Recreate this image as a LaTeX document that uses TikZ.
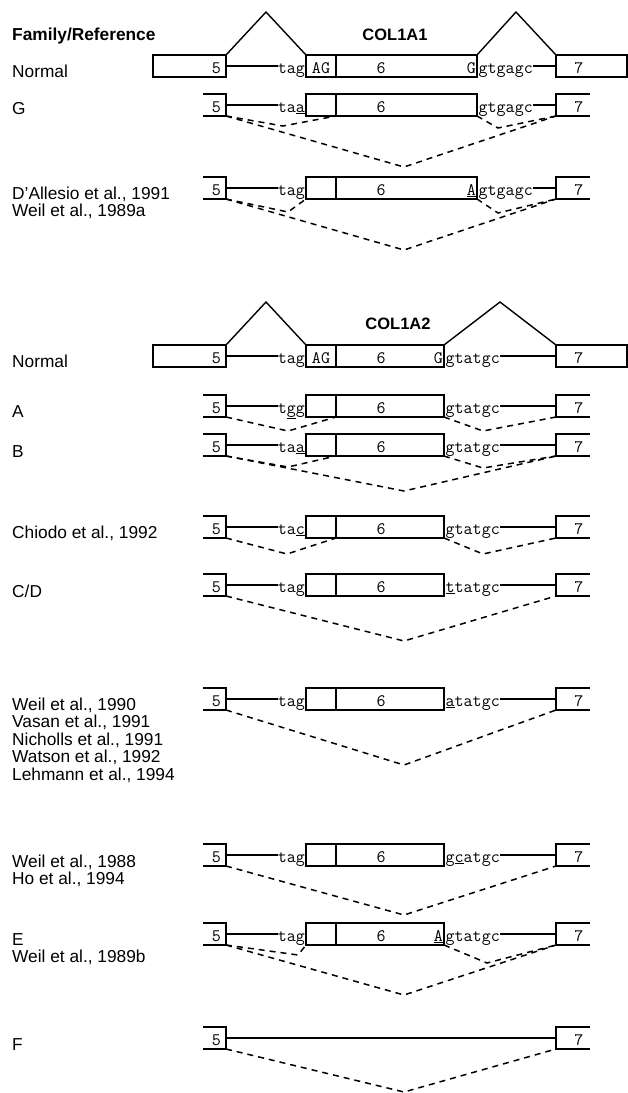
\documentclass[tikz,border=0pt]{standalone}
\usepackage{fontspec}
\setmainfont{Liberation Sans}
\usepackage{tikz}

\newcommand{\seqfont}{\ttfamily\fontsize{17.5}{19}\selectfont}
\newcommand{\famfont}{\fontsize{17.3}{17.5}\selectfont}
\newcommand{\genefont}{\bfseries\fontsize{16.5}{18}\selectfont}

\tikzset{
	exonbox/.style={draw, line width=1.4pt, inner sep=0pt, outer sep=0pt, minimum height=22pt, anchor=south west},
	boxline/.style={line width=1.4pt},
	seqtext/.style={font=\seqfont, inner sep=0pt},
	exonnum/.style={font=\seqfont, inner sep=0pt},
	splicejump/.style={line width=1.5pt, dash pattern=on 6pt off 5pt},
	famlabel/.style={font=\famfont, inner sep=0pt, anchor=base west},
	genetitle/.style={font=\genefont, inner sep=0pt, anchor=base},
}

\newcommand{\normrow}[5]{%
	\node[exonbox, minimum width=73pt] (#1five) at (153,#2) {};
	\node[exonnum, anchor=base east] (#1fiven) at (221,#2-4) {5};
	\node[exonbox, minimum width=30pt] (#1ag) at (306,#2) {};
	\node[seqtext, anchor=base] (#1agt) at (321,#2-4) {AG};
	\node[exonbox, minimum width=#3pt] (#1six) at (336,#2) {};
	\node[exonnum, anchor=base] (#1sixn) at (381,#2-4) {6};
	\node[seqtext, anchor=base east] (#1acc) at (305,#2-4) {tag};
	\node[seqtext, anchor=base east] (#1end) at ([xshift=-1pt,yshift=4pt]#1six.south east) {G};
	\node[seqtext, anchor=base west] (#1don) at ([xshift=1.5pt,yshift=4pt]#1six.south east) {#4};
	\node[exonbox, minimum width=71pt] (#1seven) at (556,#2) {};
	\node[exonnum, anchor=base] (#1sevenn) at (579,#2-4) {7};
	\draw[boxline] (#1five.east) -- (#1five.east -| #1acc.west);
	\draw[boxline] (#1seven.west -| #1don.east) -- (#1seven.west);
	\coordinate (#1loopa) at (266,#2-65);
	\coordinate (#1loopb) at (#5,#2-65);
	\draw[boxline] (#1five.north east) -- (#1loopa) -- (#1ag.north west);
	\draw[boxline] (#1six.north east) -- (#1loopb) -- (#1seven.north west);
}

\newcommand{\mutrow}[6]{%
	\node[exonbox, draw=none, minimum width=23pt] (#1five) at (203,#2) {};
	\draw[boxline] (#1five.north west) -| (#1five.south east) -- (#1five.south west);
	\node[exonnum, anchor=base east] (#1fiven) at (221,#2-4) {5};
	\node[exonbox, minimum width=30pt] (#1ag) at (306,#2) {};
	\node[exonbox, minimum width=#3pt] (#1six) at (336,#2) {};
	\node[exonnum, anchor=base] (#1sixn) at (381,#2-4) {6};
	\node[seqtext, anchor=base east] (#1acc) at (305,#2-4) {#4};
	\node[seqtext, anchor=base east] (#1end) at ([xshift=-1pt,yshift=4pt]#1six.south east) {#5};
	\node[seqtext, anchor=base west] (#1don) at ([xshift=1.5pt,yshift=4pt]#1six.south east) {#6};
	\node[exonbox, draw=none, minimum width=34pt] (#1seven) at (556,#2) {};
	\draw[boxline] (#1seven.north east) -| (#1seven.south west) -- (#1seven.south east);
	\node[exonnum, anchor=base] (#1sevenn) at (579,#2-4) {7};
	\draw[boxline] (#1five.east) -- (#1five.east -| #1acc.west);
	\draw[boxline] (#1seven.west -| #1don.east) -- (#1seven.west);
}

\begin{document}
\begin{tikzpicture}[x=1pt, y=-1pt]
	\useasboundingbox (0,0) rectangle (628,1093);

	\node[famlabel, font=\famfont\bfseries] (famhead) at (12,40) {Family/Reference};
	\node[genetitle] (geneone) at (395,40) {COL1A1};
	\node[genetitle] (genetwo) at (398,329) {COL1A2};

	\node[famlabel] (lnormone) at (12,77) {Normal};
	\node[famlabel] (lg) at (12,114) {G};
	\node[famlabel] (ldal) at (12,199) {D'Allesio et al., 1991};
	\node[famlabel] (lweilc) at (12,216.5) {Weil et al., 1989a};
	\node[famlabel] (lnormtwo) at (12,367) {Normal};
	\node[famlabel] (la) at (12,417) {A};
	\node[famlabel] (lb) at (12,457) {B};
	\node[famlabel] (lchi) at (12,538) {Chiodo et al., 1992};
	\node[famlabel] (lcd) at (12,597) {C/D};
	\node[famlabel] (lweila) at (12,710) {Weil et al., 1990};
	\node[famlabel] (lvas) at (12,727.5) {Vasan et al., 1991};
	\node[famlabel] (lnic) at (12,745) {Nicholls et al., 1991};
	\node[famlabel] (lwat) at (12,762.5) {Watson et al., 1992};
	\node[famlabel] (lleh) at (12,780) {Lehmann et al., 1994};
	\node[famlabel] (lweilb) at (12,867) {Weil et al., 1988};
	\node[famlabel] (lho) at (12,884.5) {Ho et al., 1994};
	\node[famlabel] (le) at (12,945) {E};
	\node[famlabel] (lweild) at (12,962.5) {Weil et al., 1989b};
	\node[famlabel] (lf) at (12,1050) {F};

	\normrow{na}{77}{141}{gtgagc}{516}

	\mutrow{g}{116}{141}{ta\underline{a}}{}{gtgagc}
	\coordinate (gskip) at (404,167);
	\coordinate (gacc) at (283,126);
	\coordinate (gdon) at (498,128);
	\draw[splicejump] (gfive.south east) -- (gskip) -- (gseven.south west);
	\draw[splicejump] (gfive.south east) -- (gacc) -- (gag.south east);
	\draw[splicejump] (gsix.south east) -- (gdon) -- (gseven.south west);

	\mutrow{dal}{199}{141}{tag}{\underline{A}}{gtgagc}
	\coordinate (dalskip) at (404,250);
	\coordinate (dalacc) at (288,212);
	\coordinate (daldon) at (498,213);
	\draw[splicejump] (dalfive.south east) -- (dalskip) -- (dalseven.south west);
	\draw[splicejump] (dalfive.south east) -- (dalacc) -- (dalag.south west);
	\draw[splicejump] (dalsix.south east) -- (daldon) -- (dalseven.south west);

	\normrow{nb}{367}{108}{gtatgc}{500}

	\mutrow{a}{417}{108}{t\underline{g}g}{}{gtatgc}
	\coordinate (aacc) at (288,431);
	\coordinate (adon) at (483,431);
	\draw[splicejump] (afive.south east) -- (aacc) -- (aag.south east);
	\draw[splicejump] (asix.south east) -- (adon) -- (aseven.south west);

	\mutrow{b}{456}{108}{ta\underline{a}}{}{gtatgc}
	\coordinate (bskip) at (404,491);
	\coordinate (bacc) at (288,467);
	\coordinate (bdon) at (483,468);
	\draw[splicejump] (bfive.south east) -- (bskip) -- (bseven.south west);
	\draw[splicejump] (bfive.south east) -- (bacc) -- (bag.south east);
	\draw[splicejump] (bsix.south east) -- (bdon) -- (bseven.south west);

	\mutrow{chi}{538}{108}{ta\underline{c}}{}{gtatgc}
	\coordinate (chiacc) at (287,554);
	\coordinate (chidon) at (483,554);
	\draw[splicejump] (chifive.south east) -- (chiacc) -- (chiag.south east);
	\draw[splicejump] (chisix.south east) -- (chidon) -- (chiseven.south west);

	\mutrow{cd}{596}{108}{tag}{}{\underline{t}tatgc}
	\coordinate (cdskip) at (404,641);
	\draw[splicejump] (cdfive.south east) -- (cdskip) -- (cdseven.south west);

	\mutrow{wa}{710}{108}{tag}{}{\underline{a}tatgc}
	\coordinate (waskip) at (404,765);
	\draw[splicejump] (wafive.south east) -- (waskip) -- (waseven.south west);

	\mutrow{wb}{866}{108}{tag}{}{g\underline{c}atgc}
	\coordinate (wbskip) at (404,915);
	\draw[splicejump] (wbfive.south east) -- (wbskip) -- (wbseven.south west);

	\mutrow{e}{945}{108}{tag}{\underline{A}}{gtatgc}
	\coordinate (eskip) at (404,995);
	\coordinate (eacc) at (298,955);
	\coordinate (edon) at (487,963);
	\draw[splicejump] (efive.south east) -- (eskip) -- (eseven.south west);
	\draw[splicejump] (efive.south east) -- (eacc) -- (eag.south west);
	\draw[splicejump] (esix.south east) -- (edon) -- (eseven.south west);

	\node[exonbox, draw=none, minimum width=23pt] (ffive) at (203,1049) {};
	\draw[boxline] (ffive.north west) -| (ffive.south east) -- (ffive.south west);
	\node[exonnum, anchor=base east] (ffiven) at (221,1045) {5};
	\node[exonbox, draw=none, minimum width=34pt] (fseven) at (556,1049) {};
	\draw[boxline] (fseven.north east) -| (fseven.south west) -- (fseven.south east);
	\node[exonnum, anchor=base] (fsevenn) at (579,1045) {7};
	\draw[boxline] (ffive.east) -- (fseven.west);
	\coordinate (fskip) at (404,1092);
	\draw[splicejump] (ffive.south east) -- (fskip) -- (fseven.south west);
\end{tikzpicture}
\end{document}
